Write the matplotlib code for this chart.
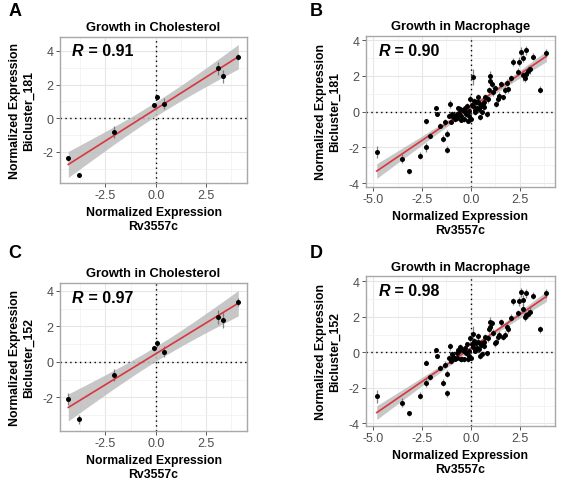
import numpy as np
import matplotlib
matplotlib.use("Agg")
import matplotlib.pyplot as plt
from matplotlib.ticker import FixedLocator

plt.rcParams['font.family'] = ['Liberation Sans', 'DejaVu Sans']

# ---------------- data ----------------
# Cholesterol (panels A, C): Rv3557c expression
chol_x = [-4.34, -3.82, -2.09, -0.07, 0.08, 0.41, 3.06, 3.33, 4.09]
chol_y181 = [-2.38, -3.37, -0.81, 0.77, 1.23, 0.87, 2.97, 2.48, 3.64]
chol_e181 = [0.15, 0.12, 0.35, 0.15, 0.15, 0.30, 0.40, 0.40, 0.20]
chol_y152 = [-2.09, -3.25, -0.75, 0.77, 1.04, 0.58, 2.51, 2.38, 3.38]
chol_e152 = [0.35, 0.25, 0.35, 0.15, 0.20, 0.30, 0.40, 0.45, 0.25]

# Macrophage (panels B, D)
mac_x = [-4.81, -3.54, -3.18, -2.60, -2.30, -2.28, -2.09, -1.79, -1.75, -1.58,
         -1.45, -1.34, -1.22, -1.21, -1.05, -1.11, -0.99, -0.85, -0.73, -0.65,
         -0.56, -0.48, -0.37, -0.26, -0.17, -0.20, -0.05, 0.00, 0.085, 0.12,
         0.19, 0.26, 0.34, 0.43, 0.48, 0.56, 0.60, 0.68, 0.73, 0.80,
         0.90, 0.97, 1.00, 1.07, 1.14, 1.24, 1.28, 1.38, 1.45, 1.56,
         1.65, 1.72, 1.85, 1.90, 2.04, 2.13, 2.43, 2.47, 2.57, 2.64,
         2.67, 2.77, 2.84, 2.84, 2.91, 3.01, 3.15, 3.52, 3.86,
         -0.92, -0.80, -0.62, -0.42, -0.30, -0.12, 0.05, 0.22, 0.38, 0.52,
         -0.50, -0.35, 0.30, 0.65, -0.70, 0.15, 0.95, -1.00, 0.45, -0.10]
mac_y181 = [-2.26, -2.63, -3.34, -2.45, -1.99, -0.54, -1.34, 0.19, -0.13, -0.78,
            -1.52, -0.59, -2.12, -1.24, 0.43, -0.22, -0.13, -0.22, -0.13, 0.19,
            0.15, -0.22, -0.41, -0.13, -0.50, 0.33, 0.71, -0.41, 1.95, 0.33,
            -0.04, 0.52, 0.80, 0.15, -0.32, -0.04, 0.43, 0.24, 0.80, -0.13,
            0.71, 2.00, 1.73, 1.54, 1.08, 1.30, 0.43, 0.71, 0.89, 1.54,
            0.80, 1.21, 1.63, 1.26, 1.87, 2.78, 2.23, 2.78, 3.36, 3.02,
            2.04, 1.91, 3.43, 2.10, 2.28, 2.37, 3.08, 1.22, 3.28,
            -0.30, -0.40, -0.05, 0.10, 0.20, -0.25, 0.40, 0.10, 0.55, 0.30,
            -0.45, 0.05, 0.20, 0.55, -0.35, 0.60, 1.20, -0.55, 0.45, 0.05]
mac_y152 = [-2.48, -2.83, -3.43, -2.44, -1.72, -0.59, -1.39, 0.13, -0.19, -0.87,
            -1.72, -0.69, -2.30, -1.20, 0.33, -0.30, -0.10, -0.30, -0.05, 0.15,
            0.30, -0.35, -0.40, -0.05, -0.40, 0.45, 0.80, -0.30, 1.05, 0.30,
            0.10, 0.55, 0.90, 0.20, -0.20, -0.10, 0.50, 0.35, 0.85, -0.05,
            0.80, 1.44, 1.72, 1.63, 1.10, 0.52, 0.60, 0.85, 0.98, 1.69,
            0.85, 0.98, 1.44, 1.30, 1.94, 2.87, 2.20, 2.87, 3.39, 2.46,
            2.93, 2.00, 3.33, 2.10, 2.18, 2.28, 3.20, 1.31, 3.33,
            -0.25, -0.35, 0.05, 0.15, 0.25, -0.20, 0.45, 0.15, 0.60, 0.40,
            -0.40, 0.10, 0.25, 0.60, -0.30, 0.65, 1.30, -0.50, 0.50, 0.10]
mac_err = [0.35, 0.25, 0.15, 0.20, 0.25, 0.15, 0.15, 0.12, 0.12, 0.15,
           0.20, 0.20, 0.20, 0.20, 0.20, 0.15, 0.15, 0.15, 0.15, 0.15,
           0.15, 0.15, 0.15, 0.15, 0.15, 0.15, 0.20, 0.15, 0.45, 0.15,
           0.15, 0.20, 0.20, 0.15, 0.15, 0.15, 0.20, 0.15, 0.20, 0.15,
           0.20, 0.25, 0.25, 0.20, 0.20, 0.20, 0.15, 0.20, 0.20, 0.20,
           0.15, 0.20, 0.20, 0.20, 0.20, 0.20, 0.20, 0.25, 0.25, 0.25,
           0.30, 0.25, 0.25, 0.25, 0.25, 0.25, 0.20, 0.20, 0.25,
           0.15, 0.15, 0.15, 0.15, 0.15, 0.15, 0.15, 0.15, 0.15, 0.15,
           0.15, 0.15, 0.15, 0.15, 0.15, 0.15, 0.20, 0.15, 0.15, 0.15]

panels = [
    dict(letter="A", title="Growth in Cholesterol", x=chol_x, y=chol_y181, e=chol_e181,
         r="0.91", ylab="Bicluster_181", box=(60, 247, 38, 184), title_y=28,
         xlim=(-4.75, 4.52), ylim=(-3.86, 4.83),
         xticks=[-2.5, 0.0, 2.5], yticks=[-2, 0, 2, 4]),
    dict(letter="B", title="Growth in Macrophage", x=mac_x, y=mac_y181, e=mac_err,
         r="0.90", ylab="Bicluster_181", box=(366, 555, 37, 188), title_y=27,
         xlim=(-5.36, 4.30), ylim=(-4.21, 4.23),
         xticks=[-5.0, -2.5, 0.0, 2.5], yticks=[-4, -2, 0, 2, 4]),
    dict(letter="C", title="Growth in Cholesterol", x=chol_x, y=chol_y152, e=chol_e152,
         r="0.97", ylab="Bicluster_152", box=(60, 247, 284, 432), title_y=274,
         xlim=(-4.75, 4.52), ylim=(-3.9, 4.45),
         xticks=[-2.5, 0.0, 2.5], yticks=[-2, 0, 2, 4]),
    dict(letter="D", title="Growth in Macrophage", x=mac_x, y=mac_y152, e=mac_err,
         r="0.98", ylab="Bicluster_152", box=(366, 555, 277, 427), title_y=268,
         xlim=(-5.36, 4.30), ylim=(-4.15, 4.30),
         xticks=[-5.0, -2.5, 0.0, 2.5], yticks=[-4, -2, 0, 2, 4]),
]

W, H = 572, 489
fig = plt.figure(figsize=(W / 100, H / 100), dpi=100)


def tq(df):
    z = 1.959964
    return z + (z**3 + z) / (4 * df) + (5 * z**5 + 16 * z**3 + 3 * z) / (96 * df**2)


for p in panels:
    l, r, t, b = p["box"]
    ax = fig.add_axes([l / W, 1 - b / H, (r - l) / W, (b - t) / H])
    x = np.array(p["x"]); y = np.array(p["y"]); e = np.array(p["e"])
    ax.set_xlim(*p["xlim"]); ax.set_ylim(*p["ylim"])

    # grid
    xt = p["xticks"]; yt = p["yticks"]
    ax.xaxis.set_major_locator(FixedLocator(xt))
    ax.yaxis.set_major_locator(FixedLocator(yt))
    xminor = [v + 1.25 for v in xt] + [xt[0] - 1.25]
    yminor = [v + 1 for v in yt] + [yt[0] - 1]
    ax.xaxis.set_minor_locator(FixedLocator(xminor))
    ax.yaxis.set_minor_locator(FixedLocator(yminor))
    ax.grid(True, which='major', color='#e6e6e6', lw=0.8, zorder=0)
    ax.grid(True, which='minor', color='#f2f2f2', lw=0.6, zorder=0)
    ax.set_axisbelow(True)
    ax.tick_params(which='minor', length=0)
    ax.tick_params(which='major', length=3, width=0.7, color='#555555',
                   labelsize=9, labelcolor='#4d4d4d', pad=1.5)
    ax.set_xticklabels([f"{v:.1f}" for v in xt])
    ax.set_yticklabels([f"{v:d}" for v in yt])
    for s in ax.spines.values():
        s.set_color('#a8a8a8'); s.set_linewidth(1.0)

    # reference lines
    ax.axhline(0, color='black', lw=1.0, ls=(0, (1, 2.5)), zorder=1)
    ax.axvline(0, color='black', lw=1.0, ls=(0, (1, 2.5)), zorder=1)

    # linear fit + 95% CI
    n = len(x)
    slope, icpt = np.polyfit(x, y, 1)
    xs = np.linspace(x.min(), x.max(), 200)
    yh = icpt + slope * xs
    resid = y - (icpt + slope * x)
    s = np.sqrt(np.sum(resid**2) / (n - 2))
    sxx = np.sum((x - x.mean())**2)
    se = s * np.sqrt(1 / n + (xs - x.mean())**2 / sxx)
    tv = tq(n - 2)
    ax.fill_between(xs, yh - tv * se, yh + tv * se, color='#bdbdbd', alpha=0.85,
                    lw=0, zorder=2)

    ax.errorbar(x, y, yerr=e, fmt='none', ecolor='#666666', elinewidth=0.9,
                capsize=0, zorder=3, alpha=0.8)
    ax.plot(xs, yh, color='#d9363e', lw=1.2, zorder=4)
    ax.scatter(x, y, s=13, color='black', zorder=5, lw=0)

    # R annotation
    t1 = ax.text(0.065, 0.905, "R", transform=ax.transAxes, fontsize=11.5,
                 fontweight='bold', fontstyle='italic', va='center', ha='left')
    ax.annotate(" = " + p["r"], xy=(1, 0), xycoords=t1, va='bottom', ha='left',
                fontsize=11.5, fontweight='bold')

    cx = (l + r) / 2 / W
    fig.text(cx, 1 - p["title_y"] / H, p["title"], ha='center', va='center',
             fontsize=9.3, fontweight='bold')
    fig.text(cx, 1 - (b + 36) / H, "Normalized Expression\nRv3557c", ha='center',
             va='center', fontsize=8.8, fontweight='bold', linespacing=1.2)
    fig.text((l - 38) / W, 1 - (t + b) / 2 / H, "Normalized Expression\n" + p["ylab"],
             ha='center', va='center', rotation=90, fontsize=8.8, fontweight='bold',
             linespacing=1.2)

letters = [("A", 15, 11), ("B", 316, 11), ("C", 15, 253), ("D", 316, 253)]
for lt, px, py in letters:
    fig.text(px / W, 1 - py / H, lt, ha='center', va='center', fontsize=13,
             fontweight='bold')

fig.savefig("out.png", dpi=100)
